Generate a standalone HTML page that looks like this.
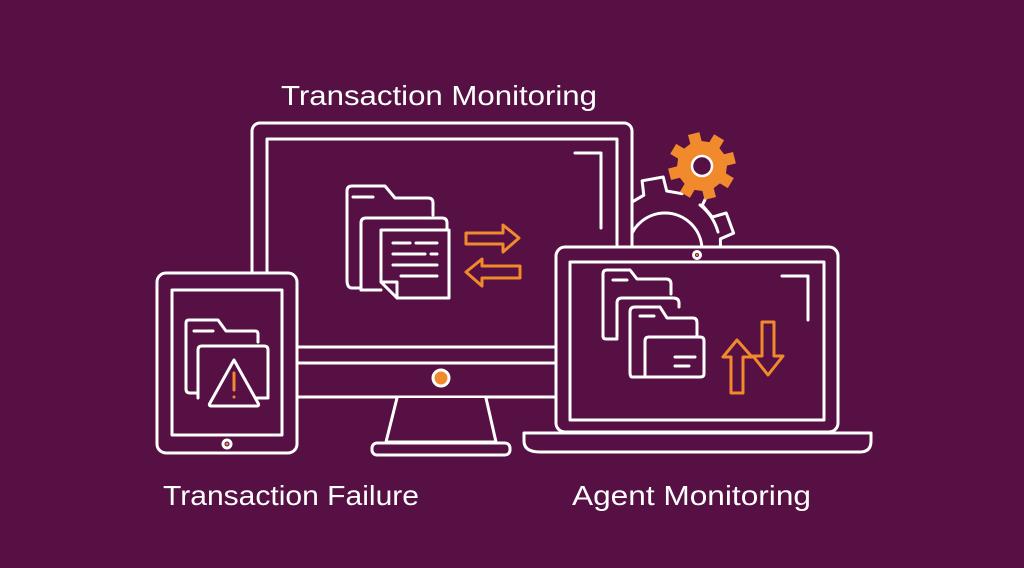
<!DOCTYPE html>
<html><head><meta charset="utf-8"><style>
html,body{margin:0;padding:0;background:#561043;}
svg{display:block}
text{font-family:"Liberation Sans",sans-serif;fill:#fff;font-size:28px}
</style></head><body>
<svg width="1024" height="568" viewBox="0 0 1024 568" xmlns="http://www.w3.org/2000/svg">
<rect width="1024" height="568" fill="#561043"/>
<g fill="none" stroke="#fff" stroke-width="3" stroke-linejoin="round" stroke-linecap="round">
<path id="bg" fill="#561043"/>
<path d="M628 250 A37 37 0 0 1 702 250" />
<path d="M700 205 A52 52 0 0 1 718 232"/>
<path id="og" fill="#f08a2c" stroke="none"/>
<circle cx="702" cy="166" r="10" fill="#561043" stroke="#fff" stroke-width="2.5"/>
<rect x="252" y="123" width="380" height="274" rx="8" fill="#561043"/>
<rect x="267" y="139" width="350" height="208"/>
<line x1="252" y1="363" x2="632" y2="363"/>
<path d="M575 153 H601 V228"/>
<circle cx="441" cy="378" r="8" fill="#f08a2c"/>
<path d="M397 398 L386 442 H496 L486 398" fill="#561043"/>
<rect x="372" y="443" width="138" height="12" rx="5" fill="#561043"/>
<path d="M347 280 V191 Q347 186 352 186 H385 L395 198 H428 Q433 198 433 203 V215"/>
<path d="M361 290 V223 Q361 218 366 218 H442 Q447 218 447 223 V230"/>
<path d="M347 280 Q347 288 352 288 H361"/>
<path d="M361 290 H381"/>
<path d="M381 230 H449 V298 H397 L381 282 Z" fill="#561043"/>
<path d="M381 282 H397 V298"/>
<line x1="353" y1="197" x2="373" y2="197"/>
<path d="M393 243 H410 M416 243 H437 M393 254 H425 M431 254 H437 M393 265 H437 M401 276 H437"/>
<g stroke="#f08a2c">
<path d="M466 233 H503 V225 L519 238 L503 252 V244 H466 Z"/>
<path d="M520 266 H482 V259 L466 272 L482 286 V278 H520 Z"/>
</g>
<rect x="157" y="273" width="140" height="180" rx="9" fill="#561043"/>
<rect x="172" y="290" width="110" height="145"/>
<circle cx="227" cy="444" r="4"/>
<circle cx="227" cy="444" r="1.5" fill="#f08a2c" stroke="none"/>
<path d="M186 389 V323 Q186 320 189 320 H218 L226 331 H255 Q258 331 258 334 V342"/>
<line x1="194" y1="331" x2="213" y2="331"/>
<path d="M198 398 V350 Q198 346 202 346 H264 Q268 346 268 350 V398 H255"/>
<path d="M186 389 Q186 393 190 393 H198"/>
<path d="M234 360 L210 403 Q208 406 212 406 H256 Q260 406 258 403 Z" fill="#561043"/>
<line x1="234" y1="373" x2="234" y2="390" stroke="#f08a2c"/>
<circle cx="234" cy="397" r="1.5" fill="#f08a2c" stroke="none"/>
<rect x="556" y="247" width="282" height="185" rx="9" fill="#561043"/>
<rect x="570" y="262" width="254" height="158"/>
<circle cx="697" cy="255" r="3.5"/>
<circle cx="697" cy="255" r="1.2" fill="#f08a2c" stroke="none"/>
<path d="M524 433 H871 V441 Q871 452 860 452 H540 Q524 452 524 441 Z" fill="#561043"/>
<path d="M782 276 H808 V320"/>
<path d="M603 336 V274 Q603 270 607 270 H630 L637 279 H666 Q671 279 671 284 V294"/>
<line x1="613" y1="280" x2="627" y2="280"/>
<path d="M617 337 V303 Q617 298 622 298 H673 Q679 298 679 303 V307"/>
<path d="M603 336 Q603 339 606 339 H617"/>
<path d="M630 372 V312 Q630 307 635 307 H660 L667 318 H693 Q697 318 697 323 V337"/>
<line x1="640" y1="316" x2="654" y2="316"/>
<path d="M645 377 V341 Q645 337 649 337 H700 Q704 337 704 341 V374 Q704 377 700 377 H632 Q630 377 630 372" fill="#561043"/>
<path d="M675 357 H695 M675 366 H689"/>
<g stroke="#f08a2c">
<path d="M737 340 L723 357 H731 V393 H743 V357 H752 Z"/>
<path d="M768 375 L783 356 H774 V322 H762 V356 H753 Z"/>
</g>
</g>
<text x="281" y="105" textLength="316" lengthAdjust="spacingAndGlyphs">Transaction Monitoring</text>
<text x="163" y="505" textLength="256" lengthAdjust="spacingAndGlyphs">Transaction Failure</text>
<text x="572" y="505" textLength="239" lengthAdjust="spacingAndGlyphs">Agent Monitoring</text>
</svg>
<script>
function gear(cx,cy,rb,rt,n,off){
  var d="",step=2*Math.PI/n;
  for(var i=0;i<n;i++){
    var a=off+i*step;
    var pts=[[a-step*0.3,rb],[a-step*0.22,rt],[a+step*0.22,rt],[a+step*0.3,rb]];
    pts.forEach(function(p,j){
      var x=cx+p[1]*Math.cos(p[0]),y=cy+p[1]*Math.sin(p[0]);
      d+=(i==0&&j==0?"M":"L")+x.toFixed(1)+" "+y.toFixed(1)+" ";
    });
  }
  return d+"Z";
}
document.getElementById("bg").setAttribute("d",gear(665,247,56,70,9,-1.75));
document.getElementById("og").setAttribute("d",gear(702,166,25,34,8,-0.25));
</script>
</body></html>
